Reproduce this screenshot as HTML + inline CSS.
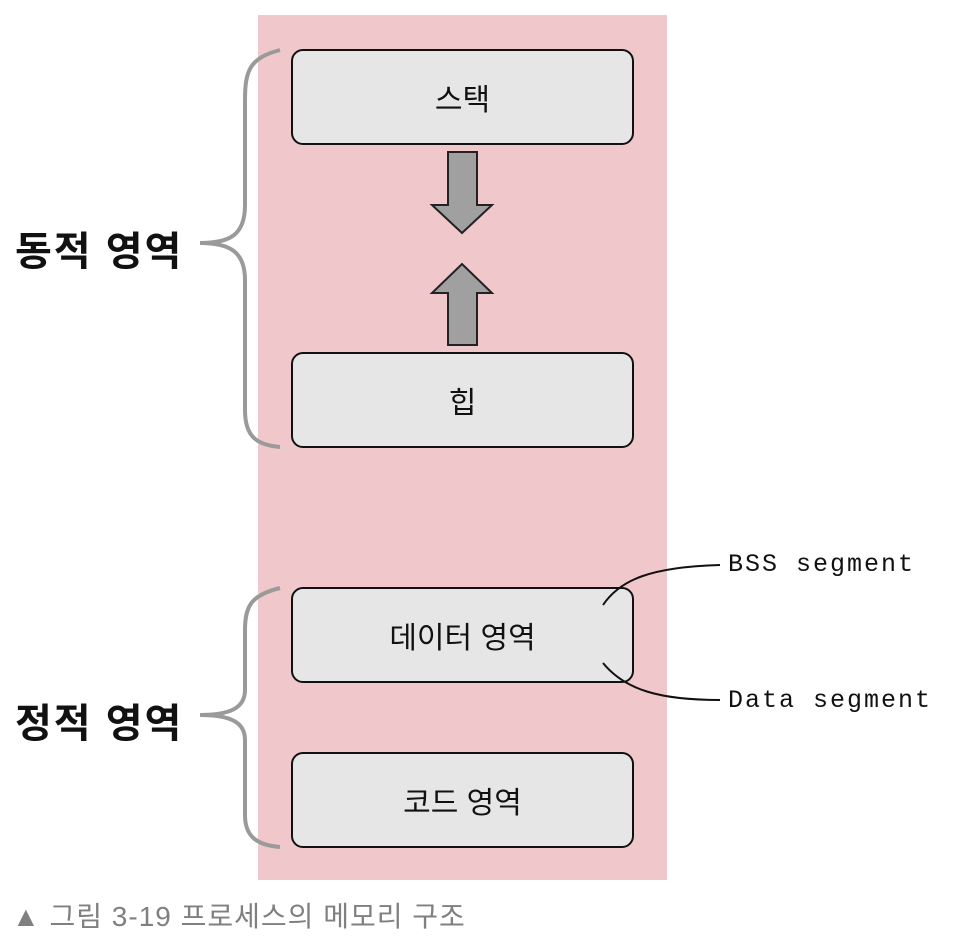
<!DOCTYPE html>
<html><head><meta charset="utf-8"><style>
body{margin:0;width:962px;height:938px;background:#fff;overflow:hidden;position:relative;font-family:"Liberation Sans","Noto Sans CJK KR",sans-serif}
.box{position:absolute;left:291px;width:339px;height:92px;background:#e6e6e6;border:2.5px solid #111;border-radius:12px;display:flex;align-items:center;justify-content:center;font-size:30px;color:#111}
.lbl{position:absolute;font-size:40px;font-weight:bold;color:#111;letter-spacing:2px}
.seg{position:absolute;font-family:"Liberation Mono",monospace;font-size:25px;color:#111;letter-spacing:2px}
</style></head><body>
<div style="position:absolute;left:258px;top:15px;width:409px;height:865px;background:#f0c8cb"></div>
<div class="box" style="top:49px">스택</div>
<div class="box" style="top:352px">힙</div>
<div class="box" style="top:587px">데이터 영역</div>
<div class="box" style="top:752px">코드 영역</div>
<svg width="962" height="938" style="position:absolute;left:0;top:0">
<polygon points="448,152 477,152 477,205 492,205 462,233 432,205 448,205" fill="#a0a0a0" stroke="#222" stroke-width="2"/>
<polygon points="448,345 477,345 477,293 492,293 462,264 432,293 448,293" fill="#a0a0a0" stroke="#222" stroke-width="2"/>
<path d="M280,50 C250,58 245,70 245,100 L245,205 C245,235 230,243 200,243 C230,243 245,252 245,280 L245,410 C245,435 255,445 280,447" fill="none" stroke="#9a9a9a" stroke-width="4"/>
<path d="M280,588 C252,595 245,605 245,630 L245,690 C245,708 230,715 200,715 C230,715 245,722 245,740 L245,815 C245,835 255,845 280,847" fill="none" stroke="#9a9a9a" stroke-width="4"/>
<path d="M603,605 C620,580 650,567 720,565" fill="none" stroke="#111" stroke-width="2"/>
<path d="M603,663 C625,690 660,700 720,700" fill="none" stroke="#111" stroke-width="2"/>
</svg>
<div class="lbl" style="left:15px;top:219px">동적 영역</div>
<div class="lbl" style="left:15px;top:691px">정적 영역</div>
<div class="seg" style="left:728px;top:550px">BSS segment</div>
<div class="seg" style="left:728px;top:686px">Data segment</div>
<div style="position:absolute;left:12px;top:895px;font-size:28px;color:#808080;letter-spacing:1px">▲ 그림 3-19 프로세스의 메모리 구조</div>
</body></html>
